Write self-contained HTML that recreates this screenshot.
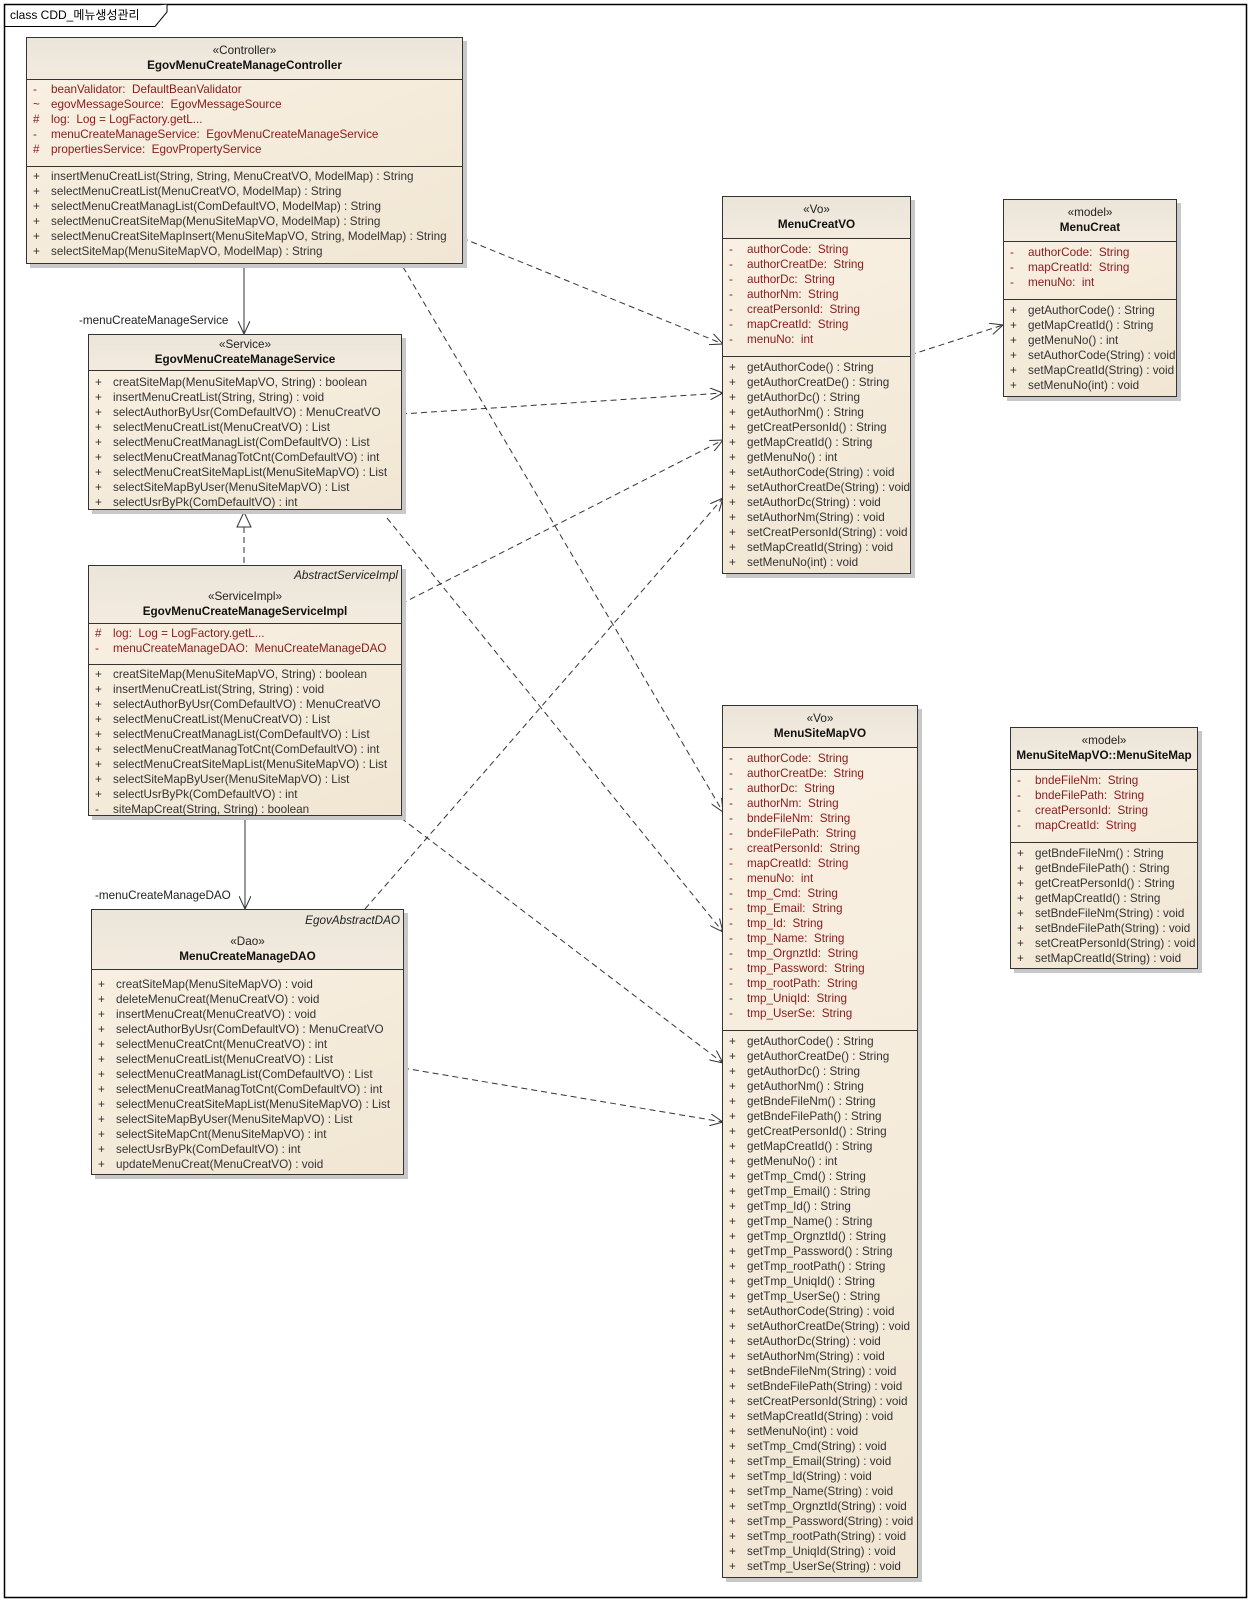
<!DOCTYPE html>
<html><head><meta charset="utf-8">
<style>
body{margin:0;background:#fff;}
#c{position:relative;width:1252px;height:1604px;overflow:hidden;background:#fff;font-family:"Liberation Sans","Noto Sans CJK KR",sans-serif;font-size:11.7px;}
.b{position:absolute;border:1px solid #333;box-sizing:border-box;background:linear-gradient(160deg,#f9f1e4,#f1e6d3);box-shadow:4px 4px 0 #c8c8c8;}
.h{position:absolute;left:0;right:0;top:0;border-bottom:1px solid #333;background:linear-gradient(180deg,#ebe5da,#f3ebde);text-align:center;}
.s{position:absolute;left:0;right:0;box-sizing:border-box;}
.s.a{border-bottom:1px solid #333;}
.r{height:15px;line-height:15px;white-space:nowrap;position:relative;}
.r i{font-style:normal;position:absolute;left:6px;}
.r span{position:absolute;left:24px;}
.a .r{color:#8b1a1a;}
.m .r{color:#333;}
.st{height:15px;line-height:15px;color:#222;}
.nm{height:15px;line-height:15px;font-weight:bold;color:#111;}
.it{height:15px;line-height:15px;font-style:italic;text-align:right;padding-right:3px;color:#222;}
.lbl{position:absolute;color:#222;white-space:nowrap;}
</style></head><body><div id="c">
<svg width="1252" height="1604" style="position:absolute;left:0;top:0">
<defs>
<marker id="ar" markerWidth="14" markerHeight="12" refX="13" refY="6" orient="auto" markerUnits="userSpaceOnUse"><path d="M0,0 L13,6 L0,12" fill="none" stroke="#333" stroke-width="1"/></marker>
</defs>
<rect x="4.5" y="4.5" width="1242" height="1593" fill="none" stroke="#000" stroke-width="1.5"/>
<path d="M4.5,26.5 L155,26.5 L167,12 L167,4.5" fill="#fff" stroke="#000" stroke-width="1"/>
<text x="10" y="19" font-family="Liberation Sans, Noto Sans CJK KR, sans-serif" font-size="12" fill="#000">class CDD_메뉴생성관리</text>
<g stroke="#333" stroke-width="1" fill="none">
<line x1="244" y1="263" x2="244" y2="334" marker-end="url(#ar)"/>
<line x1="245" y1="815" x2="245" y2="909" marker-end="url(#ar)"/>
<line x1="244" y1="527" x2="244" y2="565" stroke-dasharray="6,4"/>
<path d="M244,512 L237,527 L251,527 Z" fill="#fff"/>
<g stroke-dasharray="6,4">
<line x1="462" y1="238" x2="723" y2="344" marker-end="url(#ar)"/>
<line x1="401" y1="414" x2="723" y2="393" marker-end="url(#ar)"/>
<line x1="401" y1="604" x2="723" y2="440" marker-end="url(#ar)"/>
<line x1="365" y1="909" x2="723" y2="498" marker-end="url(#ar)"/>
<line x1="403" y1="267" x2="723" y2="812" marker-end="url(#ar)"/>
<line x1="387" y1="518" x2="723" y2="932" marker-end="url(#ar)"/>
<line x1="401" y1="818" x2="723" y2="1063" marker-end="url(#ar)"/>
<line x1="403" y1="1068" x2="723" y2="1122" marker-end="url(#ar)"/>
<line x1="910" y1="355" x2="1003" y2="325" marker-end="url(#ar)"/>
</g></g>
</svg>
<div class="lbl" style="left:79px;top:314px">-menuCreateManageService</div>
<div class="lbl" style="left:95px;top:889px">-menuCreateManageDAO</div>

<!-- Controller -->
<div class="b" style="left:26px;top:37px;width:437px;height:227px">
<div class="h" style="height:42px;padding-top:5px;box-sizing:border-box"><div class="st">«Controller»</div><div class="nm">EgovMenuCreateManageController</div></div>
<div class="s a" style="top:41px;height:88px;padding-top:3px">
<div class="r"><i>-</i><span>beanValidator:&nbsp; DefaultBeanValidator</span></div>
<div class="r"><i>~</i><span>egovMessageSource:&nbsp; EgovMessageSource</span></div>
<div class="r"><i>#</i><span>log:&nbsp; Log = LogFactory.getL...</span></div>
<div class="r"><i>-</i><span>menuCreateManageService:&nbsp; EgovMenuCreateManageService</span></div>
<div class="r"><i>#</i><span>propertiesService:&nbsp; EgovPropertyService</span></div>
</div>
<div class="s m" style="top:128px;padding-top:3px">
<div class="r"><i>+</i><span>insertMenuCreatList(String, String, MenuCreatVO, ModelMap) : String</span></div>
<div class="r"><i>+</i><span>selectMenuCreatList(MenuCreatVO, ModelMap) : String</span></div>
<div class="r"><i>+</i><span>selectMenuCreatManagList(ComDefaultVO, ModelMap) : String</span></div>
<div class="r"><i>+</i><span>selectMenuCreatSiteMap(MenuSiteMapVO, ModelMap) : String</span></div>
<div class="r"><i>+</i><span>selectMenuCreatSiteMapInsert(MenuSiteMapVO, String, ModelMap) : String</span></div>
<div class="r"><i>+</i><span>selectSiteMap(MenuSiteMapVO, ModelMap) : String</span></div>
</div></div>

<!-- Service -->
<div class="b" style="left:88px;top:334px;width:314px;height:176px">
<div class="h" style="height:36px;padding-top:2px;box-sizing:border-box"><div class="st">«Service»</div><div class="nm">EgovMenuCreateManageService</div></div>
<div class="s m" style="top:36px;padding-top:4px">
<div class="r"><i>+</i><span>creatSiteMap(MenuSiteMapVO, String) : boolean</span></div>
<div class="r"><i>+</i><span>insertMenuCreatList(String, String) : void</span></div>
<div class="r"><i>+</i><span>selectAuthorByUsr(ComDefaultVO) : MenuCreatVO</span></div>
<div class="r"><i>+</i><span>selectMenuCreatList(MenuCreatVO) : List</span></div>
<div class="r"><i>+</i><span>selectMenuCreatManagList(ComDefaultVO) : List</span></div>
<div class="r"><i>+</i><span>selectMenuCreatManagTotCnt(ComDefaultVO) : int</span></div>
<div class="r"><i>+</i><span>selectMenuCreatSiteMapList(MenuSiteMapVO) : List</span></div>
<div class="r"><i>+</i><span>selectSiteMapByUser(MenuSiteMapVO) : List</span></div>
<div class="r"><i>+</i><span>selectUsrByPk(ComDefaultVO) : int</span></div>
</div></div>

<!-- ServiceImpl -->
<div class="b" style="left:88px;top:565px;width:314px;height:251px">
<div class="h" style="height:58px;padding-top:2px;box-sizing:border-box"><div class="it">AbstractServiceImpl</div><div style="height:6px"></div><div class="st">«ServiceImpl»</div><div class="nm">EgovMenuCreateManageServiceImpl</div></div>
<div class="s a" style="top:57px;height:42px;padding-top:3px">
<div class="r"><i>#</i><span>log:&nbsp; Log = LogFactory.getL...</span></div>
<div class="r"><i>-</i><span>menuCreateManageDAO:&nbsp; MenuCreateManageDAO</span></div>
</div>
<div class="s m" style="top:98px;padding-top:3px">
<div class="r"><i>+</i><span>creatSiteMap(MenuSiteMapVO, String) : boolean</span></div>
<div class="r"><i>+</i><span>insertMenuCreatList(String, String) : void</span></div>
<div class="r"><i>+</i><span>selectAuthorByUsr(ComDefaultVO) : MenuCreatVO</span></div>
<div class="r"><i>+</i><span>selectMenuCreatList(MenuCreatVO) : List</span></div>
<div class="r"><i>+</i><span>selectMenuCreatManagList(ComDefaultVO) : List</span></div>
<div class="r"><i>+</i><span>selectMenuCreatManagTotCnt(ComDefaultVO) : int</span></div>
<div class="r"><i>+</i><span>selectMenuCreatSiteMapList(MenuSiteMapVO) : List</span></div>
<div class="r"><i>+</i><span>selectSiteMapByUser(MenuSiteMapVO) : List</span></div>
<div class="r"><i>+</i><span>selectUsrByPk(ComDefaultVO) : int</span></div>
<div class="r"><i>-</i><span>siteMapCreat(String, String) : boolean</span></div>
</div></div>

<!-- DAO -->
<div class="b" style="left:91px;top:909px;width:313px;height:266px">
<div class="h" style="height:60px;padding-top:3px;box-sizing:border-box"><div class="it">EgovAbstractDAO</div><div style="height:6px"></div><div class="st">«Dao»</div><div class="nm">MenuCreateManageDAO</div></div>
<div class="s m" style="top:59px;padding-top:8px">
<div class="r"><i>+</i><span>creatSiteMap(MenuSiteMapVO) : void</span></div>
<div class="r"><i>+</i><span>deleteMenuCreat(MenuCreatVO) : void</span></div>
<div class="r"><i>+</i><span>insertMenuCreat(MenuCreatVO) : void</span></div>
<div class="r"><i>+</i><span>selectAuthorByUsr(ComDefaultVO) : MenuCreatVO</span></div>
<div class="r"><i>+</i><span>selectMenuCreatCnt(MenuCreatVO) : int</span></div>
<div class="r"><i>+</i><span>selectMenuCreatList(MenuCreatVO) : List</span></div>
<div class="r"><i>+</i><span>selectMenuCreatManagList(ComDefaultVO) : List</span></div>
<div class="r"><i>+</i><span>selectMenuCreatManagTotCnt(ComDefaultVO) : int</span></div>
<div class="r"><i>+</i><span>selectMenuCreatSiteMapList(MenuSiteMapVO) : List</span></div>
<div class="r"><i>+</i><span>selectSiteMapByUser(MenuSiteMapVO) : List</span></div>
<div class="r"><i>+</i><span>selectSiteMapCnt(MenuSiteMapVO) : int</span></div>
<div class="r"><i>+</i><span>selectUsrByPk(ComDefaultVO) : int</span></div>
<div class="r"><i>+</i><span>updateMenuCreat(MenuCreatVO) : void</span></div>
</div></div>

<!-- MenuCreatVO -->
<div class="b" style="left:722px;top:196px;width:189px;height:378px">
<div class="h" style="height:42px;padding-top:5px;box-sizing:border-box"><div class="st">«Vo»</div><div class="nm">MenuCreatVO</div></div>
<div class="s a" style="top:41px;height:119px;padding-top:4px">
<div class="r"><i>-</i><span>authorCode:&nbsp; String</span></div>
<div class="r"><i>-</i><span>authorCreatDe:&nbsp; String</span></div>
<div class="r"><i>-</i><span>authorDc:&nbsp; String</span></div>
<div class="r"><i>-</i><span>authorNm:&nbsp; String</span></div>
<div class="r"><i>-</i><span>creatPersonId:&nbsp; String</span></div>
<div class="r"><i>-</i><span>mapCreatId:&nbsp; String</span></div>
<div class="r"><i>-</i><span>menuNo:&nbsp; int</span></div>
</div>
<div class="s m" style="top:159px;padding-top:4px">
<div class="r"><i>+</i><span>getAuthorCode() : String</span></div>
<div class="r"><i>+</i><span>getAuthorCreatDe() : String</span></div>
<div class="r"><i>+</i><span>getAuthorDc() : String</span></div>
<div class="r"><i>+</i><span>getAuthorNm() : String</span></div>
<div class="r"><i>+</i><span>getCreatPersonId() : String</span></div>
<div class="r"><i>+</i><span>getMapCreatId() : String</span></div>
<div class="r"><i>+</i><span>getMenuNo() : int</span></div>
<div class="r"><i>+</i><span>setAuthorCode(String) : void</span></div>
<div class="r"><i>+</i><span>setAuthorCreatDe(String) : void</span></div>
<div class="r"><i>+</i><span>setAuthorDc(String) : void</span></div>
<div class="r"><i>+</i><span>setAuthorNm(String) : void</span></div>
<div class="r"><i>+</i><span>setCreatPersonId(String) : void</span></div>
<div class="r"><i>+</i><span>setMapCreatId(String) : void</span></div>
<div class="r"><i>+</i><span>setMenuNo(int) : void</span></div>
</div></div>

<!-- MenuCreat -->
<div class="b" style="left:1003px;top:199px;width:174px;height:198px">
<div class="h" style="height:42px;padding-top:5px;box-sizing:border-box"><div class="st">«model»</div><div class="nm">MenuCreat</div></div>
<div class="s a" style="top:41px;height:59px;padding-top:4px">
<div class="r"><i>-</i><span>authorCode:&nbsp; String</span></div>
<div class="r"><i>-</i><span>mapCreatId:&nbsp; String</span></div>
<div class="r"><i>-</i><span>menuNo:&nbsp; int</span></div>
</div>
<div class="s m" style="top:99px;padding-top:4px">
<div class="r"><i>+</i><span>getAuthorCode() : String</span></div>
<div class="r"><i>+</i><span>getMapCreatId() : String</span></div>
<div class="r"><i>+</i><span>getMenuNo() : int</span></div>
<div class="r"><i>+</i><span>setAuthorCode(String) : void</span></div>
<div class="r"><i>+</i><span>setMapCreatId(String) : void</span></div>
<div class="r"><i>+</i><span>setMenuNo(int) : void</span></div>
</div></div>

<!-- MenuSiteMapVO -->
<div class="b" style="left:722px;top:705px;width:196px;height:873px">
<div class="h" style="height:42px;padding-top:5px;box-sizing:border-box"><div class="st">«Vo»</div><div class="nm">MenuSiteMapVO</div></div>
<div class="s a" style="top:41px;height:284px;padding-top:4px">
<div class="r"><i>-</i><span>authorCode:&nbsp; String</span></div>
<div class="r"><i>-</i><span>authorCreatDe:&nbsp; String</span></div>
<div class="r"><i>-</i><span>authorDc:&nbsp; String</span></div>
<div class="r"><i>-</i><span>authorNm:&nbsp; String</span></div>
<div class="r"><i>-</i><span>bndeFileNm:&nbsp; String</span></div>
<div class="r"><i>-</i><span>bndeFilePath:&nbsp; String</span></div>
<div class="r"><i>-</i><span>creatPersonId:&nbsp; String</span></div>
<div class="r"><i>-</i><span>mapCreatId:&nbsp; String</span></div>
<div class="r"><i>-</i><span>menuNo:&nbsp; int</span></div>
<div class="r"><i>-</i><span>tmp_Cmd:&nbsp; String</span></div>
<div class="r"><i>-</i><span>tmp_Email:&nbsp; String</span></div>
<div class="r"><i>-</i><span>tmp_Id:&nbsp; String</span></div>
<div class="r"><i>-</i><span>tmp_Name:&nbsp; String</span></div>
<div class="r"><i>-</i><span>tmp_OrgnztId:&nbsp; String</span></div>
<div class="r"><i>-</i><span>tmp_Password:&nbsp; String</span></div>
<div class="r"><i>-</i><span>tmp_rootPath:&nbsp; String</span></div>
<div class="r"><i>-</i><span>tmp_UniqId:&nbsp; String</span></div>
<div class="r"><i>-</i><span>tmp_UserSe:&nbsp; String</span></div>
</div>
<div class="s m" style="top:324px;padding-top:4px">
<div class="r"><i>+</i><span>getAuthorCode() : String</span></div>
<div class="r"><i>+</i><span>getAuthorCreatDe() : String</span></div>
<div class="r"><i>+</i><span>getAuthorDc() : String</span></div>
<div class="r"><i>+</i><span>getAuthorNm() : String</span></div>
<div class="r"><i>+</i><span>getBndeFileNm() : String</span></div>
<div class="r"><i>+</i><span>getBndeFilePath() : String</span></div>
<div class="r"><i>+</i><span>getCreatPersonId() : String</span></div>
<div class="r"><i>+</i><span>getMapCreatId() : String</span></div>
<div class="r"><i>+</i><span>getMenuNo() : int</span></div>
<div class="r"><i>+</i><span>getTmp_Cmd() : String</span></div>
<div class="r"><i>+</i><span>getTmp_Email() : String</span></div>
<div class="r"><i>+</i><span>getTmp_Id() : String</span></div>
<div class="r"><i>+</i><span>getTmp_Name() : String</span></div>
<div class="r"><i>+</i><span>getTmp_OrgnztId() : String</span></div>
<div class="r"><i>+</i><span>getTmp_Password() : String</span></div>
<div class="r"><i>+</i><span>getTmp_rootPath() : String</span></div>
<div class="r"><i>+</i><span>getTmp_UniqId() : String</span></div>
<div class="r"><i>+</i><span>getTmp_UserSe() : String</span></div>
<div class="r"><i>+</i><span>setAuthorCode(String) : void</span></div>
<div class="r"><i>+</i><span>setAuthorCreatDe(String) : void</span></div>
<div class="r"><i>+</i><span>setAuthorDc(String) : void</span></div>
<div class="r"><i>+</i><span>setAuthorNm(String) : void</span></div>
<div class="r"><i>+</i><span>setBndeFileNm(String) : void</span></div>
<div class="r"><i>+</i><span>setBndeFilePath(String) : void</span></div>
<div class="r"><i>+</i><span>setCreatPersonId(String) : void</span></div>
<div class="r"><i>+</i><span>setMapCreatId(String) : void</span></div>
<div class="r"><i>+</i><span>setMenuNo(int) : void</span></div>
<div class="r"><i>+</i><span>setTmp_Cmd(String) : void</span></div>
<div class="r"><i>+</i><span>setTmp_Email(String) : void</span></div>
<div class="r"><i>+</i><span>setTmp_Id(String) : void</span></div>
<div class="r"><i>+</i><span>setTmp_Name(String) : void</span></div>
<div class="r"><i>+</i><span>setTmp_OrgnztId(String) : void</span></div>
<div class="r"><i>+</i><span>setTmp_Password(String) : void</span></div>
<div class="r"><i>+</i><span>setTmp_rootPath(String) : void</span></div>
<div class="r"><i>+</i><span>setTmp_UniqId(String) : void</span></div>
<div class="r"><i>+</i><span>setTmp_UserSe(String) : void</span></div>
</div></div>

<!-- MenuSiteMap -->
<div class="b" style="left:1010px;top:727px;width:188px;height:242px">
<div class="h" style="height:42px;padding-top:5px;box-sizing:border-box"><div class="st">«model»</div><div class="nm">MenuSiteMapVO::MenuSiteMap</div></div>
<div class="s a" style="top:41px;height:74px;padding-top:4px">
<div class="r"><i>-</i><span>bndeFileNm:&nbsp; String</span></div>
<div class="r"><i>-</i><span>bndeFilePath:&nbsp; String</span></div>
<div class="r"><i>-</i><span>creatPersonId:&nbsp; String</span></div>
<div class="r"><i>-</i><span>mapCreatId:&nbsp; String</span></div>
</div>
<div class="s m" style="top:114px;padding-top:4px">
<div class="r"><i>+</i><span>getBndeFileNm() : String</span></div>
<div class="r"><i>+</i><span>getBndeFilePath() : String</span></div>
<div class="r"><i>+</i><span>getCreatPersonId() : String</span></div>
<div class="r"><i>+</i><span>getMapCreatId() : String</span></div>
<div class="r"><i>+</i><span>setBndeFileNm(String) : void</span></div>
<div class="r"><i>+</i><span>setBndeFilePath(String) : void</span></div>
<div class="r"><i>+</i><span>setCreatPersonId(String) : void</span></div>
<div class="r"><i>+</i><span>setMapCreatId(String) : void</span></div>
</div></div>

</div></body></html>
